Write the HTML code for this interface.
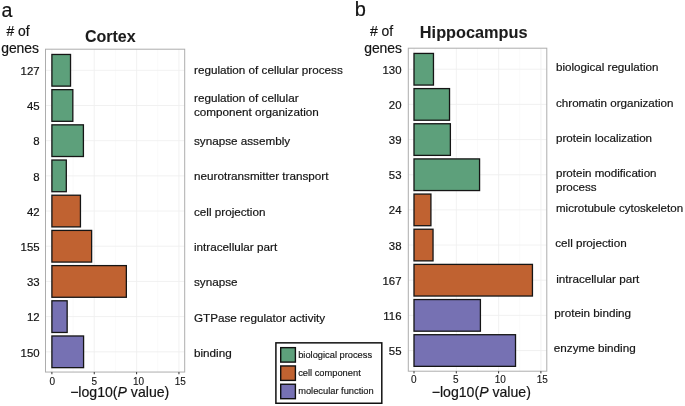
<!DOCTYPE html>
<html><head><meta charset="utf-8"><title>GO enrichment</title>
<style>
html,body{margin:0;padding:0;background:#fff;}
body{width:685px;height:406px;overflow:hidden;}
svg{display:block;will-change:transform;}
text{font-family:"Liberation Sans",sans-serif;fill:#141414;stroke:#141414;stroke-width:0.19px;}
</style></head><body>
<svg width="685" height="406" viewBox="0 0 685 406">
<rect x="0" y="0" width="685" height="406" fill="#fff"/>
<line x1="73.08" x2="73.08" y1="49.2" y2="372.05" stroke="#f6f6f6" stroke-width="0.6"/>
<line x1="115.43" x2="115.43" y1="49.2" y2="372.05" stroke="#f6f6f6" stroke-width="0.6"/>
<line x1="157.78" x2="157.78" y1="49.2" y2="372.05" stroke="#f6f6f6" stroke-width="0.6"/>
<line x1="51.90" x2="51.90" y1="49.2" y2="372.05" stroke="#eeeeee" stroke-width="0.85"/>
<line x1="94.25" x2="94.25" y1="49.2" y2="372.05" stroke="#eeeeee" stroke-width="0.85"/>
<line x1="136.60" x2="136.60" y1="49.2" y2="372.05" stroke="#eeeeee" stroke-width="0.85"/>
<line x1="178.95" x2="178.95" y1="49.2" y2="372.05" stroke="#eeeeee" stroke-width="0.85"/>
<line x1="45.5" x2="184.7" y1="70.30" y2="70.30" stroke="#eeeeee" stroke-width="0.85"/>
<line x1="45.5" x2="184.7" y1="105.49" y2="105.49" stroke="#eeeeee" stroke-width="0.85"/>
<line x1="45.5" x2="184.7" y1="140.68" y2="140.68" stroke="#eeeeee" stroke-width="0.85"/>
<line x1="45.5" x2="184.7" y1="175.87" y2="175.87" stroke="#eeeeee" stroke-width="0.85"/>
<line x1="45.5" x2="184.7" y1="211.06" y2="211.06" stroke="#eeeeee" stroke-width="0.85"/>
<line x1="45.5" x2="184.7" y1="246.25" y2="246.25" stroke="#eeeeee" stroke-width="0.85"/>
<line x1="45.5" x2="184.7" y1="281.44" y2="281.44" stroke="#eeeeee" stroke-width="0.85"/>
<line x1="45.5" x2="184.7" y1="316.63" y2="316.63" stroke="#eeeeee" stroke-width="0.85"/>
<line x1="45.5" x2="184.7" y1="351.82" y2="351.82" stroke="#eeeeee" stroke-width="0.85"/>
<rect x="51.90" y="54.46" width="18.63" height="31.67" fill="#5da07b" stroke="#151515" stroke-width="1.3"/>
<rect x="51.90" y="89.65" width="20.92" height="31.67" fill="#5da07b" stroke="#151515" stroke-width="1.3"/>
<rect x="51.90" y="124.84" width="31.51" height="31.67" fill="#5da07b" stroke="#151515" stroke-width="1.3"/>
<rect x="51.90" y="160.03" width="14.40" height="31.67" fill="#5da07b" stroke="#151515" stroke-width="1.3"/>
<rect x="51.90" y="195.22" width="28.54" height="31.67" fill="#c06231" stroke="#151515" stroke-width="1.3"/>
<rect x="51.90" y="230.41" width="39.72" height="31.67" fill="#c06231" stroke="#151515" stroke-width="1.3"/>
<rect x="51.90" y="265.60" width="74.45" height="31.67" fill="#c06231" stroke="#151515" stroke-width="1.3"/>
<rect x="51.90" y="300.79" width="15.25" height="31.67" fill="#7671b3" stroke="#151515" stroke-width="1.3"/>
<rect x="51.90" y="335.98" width="31.68" height="31.67" fill="#7671b3" stroke="#151515" stroke-width="1.3"/>
<rect x="45.5" y="49.2" width="139.20" height="322.85" fill="none" stroke="#adadad" stroke-width="1"/>
<line x1="51.90" x2="51.90" y1="372.05" y2="374.25" stroke="#333" stroke-width="1"/>
<text x="52.30" y="384.5" font-size="10" text-anchor="middle" style="stroke-width:0.12px">0</text>
<line x1="94.25" x2="94.25" y1="372.05" y2="374.25" stroke="#333" stroke-width="1"/>
<text x="94.35" y="384.5" font-size="10" text-anchor="middle" style="stroke-width:0.12px">5</text>
<line x1="136.60" x2="136.60" y1="372.05" y2="374.25" stroke="#333" stroke-width="1"/>
<text x="138.50" y="384.5" font-size="10" text-anchor="middle" style="stroke-width:0.12px">10</text>
<line x1="178.95" x2="178.95" y1="372.05" y2="374.25" stroke="#333" stroke-width="1"/>
<text x="180.25" y="384.5" font-size="10" text-anchor="middle" style="stroke-width:0.12px">15</text>
<line x1="435.15" x2="435.15" y1="48.2" y2="371.2" stroke="#f6f6f6" stroke-width="0.6"/>
<line x1="477.45" x2="477.45" y1="48.2" y2="371.2" stroke="#f6f6f6" stroke-width="0.6"/>
<line x1="519.75" x2="519.75" y1="48.2" y2="371.2" stroke="#f6f6f6" stroke-width="0.6"/>
<line x1="414.00" x2="414.00" y1="48.2" y2="371.2" stroke="#eeeeee" stroke-width="0.85"/>
<line x1="456.30" x2="456.30" y1="48.2" y2="371.2" stroke="#eeeeee" stroke-width="0.85"/>
<line x1="498.60" x2="498.60" y1="48.2" y2="371.2" stroke="#eeeeee" stroke-width="0.85"/>
<line x1="540.90" x2="540.90" y1="48.2" y2="371.2" stroke="#eeeeee" stroke-width="0.85"/>
<line x1="408.3" x2="546.8" y1="69.25" y2="69.25" stroke="#eeeeee" stroke-width="0.85"/>
<line x1="408.3" x2="546.8" y1="104.41" y2="104.41" stroke="#eeeeee" stroke-width="0.85"/>
<line x1="408.3" x2="546.8" y1="139.57" y2="139.57" stroke="#eeeeee" stroke-width="0.85"/>
<line x1="408.3" x2="546.8" y1="174.73" y2="174.73" stroke="#eeeeee" stroke-width="0.85"/>
<line x1="408.3" x2="546.8" y1="209.89" y2="209.89" stroke="#eeeeee" stroke-width="0.85"/>
<line x1="408.3" x2="546.8" y1="245.05" y2="245.05" stroke="#eeeeee" stroke-width="0.85"/>
<line x1="408.3" x2="546.8" y1="280.21" y2="280.21" stroke="#eeeeee" stroke-width="0.85"/>
<line x1="408.3" x2="546.8" y1="315.37" y2="315.37" stroke="#eeeeee" stroke-width="0.85"/>
<line x1="408.3" x2="546.8" y1="350.53" y2="350.53" stroke="#eeeeee" stroke-width="0.85"/>
<rect x="414.00" y="53.43" width="19.46" height="31.64" fill="#5da07b" stroke="#151515" stroke-width="1.3"/>
<rect x="414.00" y="88.59" width="35.53" height="31.64" fill="#5da07b" stroke="#151515" stroke-width="1.3"/>
<rect x="414.00" y="123.75" width="36.38" height="31.64" fill="#5da07b" stroke="#151515" stroke-width="1.3"/>
<rect x="414.00" y="158.91" width="65.57" height="31.64" fill="#5da07b" stroke="#151515" stroke-width="1.3"/>
<rect x="414.00" y="194.07" width="16.92" height="31.64" fill="#c06231" stroke="#151515" stroke-width="1.3"/>
<rect x="414.00" y="229.23" width="19.04" height="31.64" fill="#c06231" stroke="#151515" stroke-width="1.3"/>
<rect x="414.00" y="264.39" width="118.44" height="31.64" fill="#c06231" stroke="#151515" stroke-width="1.3"/>
<rect x="414.00" y="299.55" width="66.41" height="31.64" fill="#7671b3" stroke="#151515" stroke-width="1.3"/>
<rect x="414.00" y="334.71" width="101.52" height="31.64" fill="#7671b3" stroke="#151515" stroke-width="1.3"/>
<rect x="408.3" y="48.2" width="138.50" height="323.00" fill="none" stroke="#adadad" stroke-width="1"/>
<line x1="414.00" x2="414.00" y1="371.2" y2="373.4" stroke="#333" stroke-width="1"/>
<text x="413.80" y="383.3" font-size="10" text-anchor="middle" style="stroke-width:0.12px">0</text>
<line x1="456.30" x2="456.30" y1="371.2" y2="373.4" stroke="#333" stroke-width="1"/>
<text x="455.90" y="383.3" font-size="10" text-anchor="middle" style="stroke-width:0.12px">5</text>
<line x1="498.60" x2="498.60" y1="371.2" y2="373.4" stroke="#333" stroke-width="1"/>
<text x="500.30" y="383.3" font-size="10" text-anchor="middle" style="stroke-width:0.12px">10</text>
<line x1="540.90" x2="540.90" y1="371.2" y2="373.4" stroke="#333" stroke-width="1"/>
<text x="542.30" y="383.3" font-size="10" text-anchor="middle" style="stroke-width:0.12px">15</text>
<text x="39.6" y="75.05" font-size="11.4" text-anchor="end">127</text>
<text x="39.6" y="110.24" font-size="11.4" text-anchor="end">45</text>
<text x="39.6" y="145.43" font-size="11.4" text-anchor="end">8</text>
<text x="39.6" y="180.62" font-size="11.4" text-anchor="end">8</text>
<text x="39.6" y="215.81" font-size="11.4" text-anchor="end">42</text>
<text x="39.6" y="251.00" font-size="11.4" text-anchor="end">155</text>
<text x="39.6" y="286.19" font-size="11.4" text-anchor="end">33</text>
<text x="39.6" y="321.38" font-size="11.4" text-anchor="end">12</text>
<text x="39.6" y="356.57" font-size="11.4" text-anchor="end">150</text>
<text x="401.5" y="73.70" font-size="11.4" text-anchor="end">130</text>
<text x="401.5" y="108.86" font-size="11.4" text-anchor="end">20</text>
<text x="401.5" y="144.02" font-size="11.4" text-anchor="end">39</text>
<text x="401.5" y="179.18" font-size="11.4" text-anchor="end">53</text>
<text x="401.5" y="214.34" font-size="11.4" text-anchor="end">24</text>
<text x="401.5" y="249.50" font-size="11.4" text-anchor="end">38</text>
<text x="401.5" y="284.66" font-size="11.4" text-anchor="end">167</text>
<text x="401.5" y="319.82" font-size="11.4" text-anchor="end">116</text>
<text x="401.5" y="354.98" font-size="11.4" text-anchor="end">55</text>
<text x="194" y="73.9" font-size="11.7">regulation of cellular process</text>
<text x="194" y="102.1" font-size="11.7">regulation of cellular</text>
<text x="194" y="116.0" font-size="11.7">component organization</text>
<text x="194" y="144.5" font-size="11.7">synapse assembly</text>
<text x="194" y="179.9" font-size="11.7">neurotransmitter transport</text>
<text x="194" y="215.5" font-size="11.7">cell projection</text>
<text x="194" y="250.8" font-size="11.7">intracellular part</text>
<text x="194" y="286.3" font-size="11.7">synapse</text>
<text x="194" y="321.6" font-size="11.7">GTPase regulator activity</text>
<text x="194" y="356.8" font-size="11.7">binding</text>
<text x="556.0" y="71.05" font-size="11.6">biological regulation</text>
<text x="556.0" y="107.2" font-size="11.62">chromatin organization</text>
<text x="556.0" y="141.9" font-size="11.6">protein localization</text>
<text x="556.0" y="176.6" font-size="11.6">protein modification</text>
<text x="556.0" y="190.5" font-size="11.6">process</text>
<text x="556.0" y="211.9" font-size="11.55">microtubule cytoskeleton</text>
<text x="555.2" y="246.8" font-size="11.7">cell projection</text>
<text x="556.2" y="282.5" font-size="11.7">intracellular part</text>
<text x="554.3" y="317.2" font-size="11.7">protein binding</text>
<text x="553.8" y="351.6" font-size="11.7">enzyme binding</text>
<text x="110.3" y="42.0" font-size="16.05" font-weight="bold" text-anchor="middle" style="stroke-width:0.08px;fill:#1c1c1c;stroke:#1c1c1c">Cortex</text>
<text x="473.7" y="37.6" font-size="16.3" font-weight="bold" text-anchor="middle" style="stroke-width:0.08px;fill:#1c1c1c;stroke:#1c1c1c">Hippocampus</text>
<text x="1.5" y="16.6" font-size="19.6" style="stroke-width:0.18px">a</text>
<text x="354.75" y="16.45" font-size="20" style="stroke-width:0.2px">b</text>
<text x="18" y="35.9" font-size="13.9" text-anchor="middle"># of</text>
<text x="20.1" y="52.5" font-size="13.9" text-anchor="middle">genes</text>
<text x="381.5" y="36.2" font-size="13.9" text-anchor="middle"># of</text>
<text x="383.1" y="53" font-size="13.9" text-anchor="middle">genes</text>
<text x="119.7" y="397.2" font-size="14.1" text-anchor="middle">−log10(<tspan font-style="italic">P</tspan> value)</text>
<text x="481.3" y="396.5" font-size="14.1" text-anchor="middle">−log10(<tspan font-style="italic">P</tspan> value)</text>
<rect x="275.9" y="342.85" width="105.9" height="60.4" fill="#fff" stroke="#111" stroke-width="1.5"/>
<rect x="280.7" y="347.65" width="14.7" height="14.45" fill="#5da07b" stroke="#111" stroke-width="1.4"/>
<text x="298.2" y="357.50" font-size="9.3" style="stroke-width:0.15px">biological process</text>
<rect x="280.7" y="365.95" width="14.7" height="14.45" fill="#c06231" stroke="#111" stroke-width="1.4"/>
<text x="298.2" y="375.80" font-size="9.3" style="stroke-width:0.15px">cell component</text>
<rect x="280.7" y="384.25" width="14.7" height="14.45" fill="#7671b3" stroke="#111" stroke-width="1.4"/>
<text x="298.2" y="394.10" font-size="9.3" style="stroke-width:0.15px">molecular function</text>
</svg>
</body></html>
